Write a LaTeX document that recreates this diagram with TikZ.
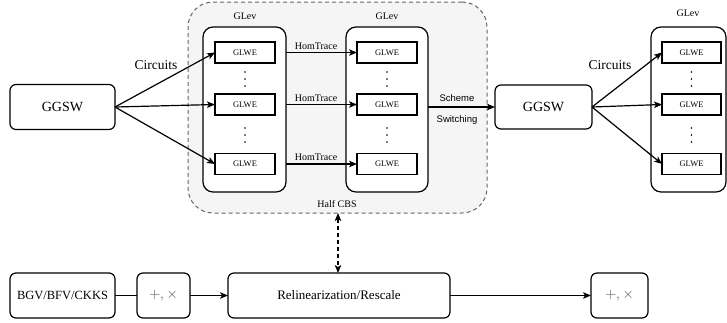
\documentclass[tikz,border=0pt]{standalone}
\usepackage{fontspec}
\setmainfont{Liberation Serif}
\newfontfamily\sansf{Liberation Sans}
\usetikzlibrary{arrows.meta}
\definecolor{regfill}{HTML}{F5F5F5}
\definecolor{regline}{HTML}{666666}
\definecolor{opgray}{HTML}{555555}
\tikzset{
  box/.style={draw=black, line width=1.2pt, rounded corners=6pt, fill=white, inner sep=0pt, outer sep=0pt},
  levbox/.style={draw=black, line width=1.2pt, rounded corners=10pt, fill=white, inner sep=0pt, outer sep=0pt},
  glwe/.style={draw=black, line width=1.2pt, fill=white, inner sep=0pt, outer sep=0pt, minimum width=60pt, minimum height=21pt, font=\fontsize{8.5}{9}\selectfont},
  conn/.style={line width=1.2pt, -{Stealth[length=8pt,width=6.5pt,inset=2pt]}},
  lbl/.style={inner sep=0pt, font=\fontsize{10}{11}\selectfont},
}
\newcommand\vdotsat[1]{%
  \fill (#1) ++(0,-7) circle (0.9pt);
  \fill (#1) circle (0.9pt);
  \fill (#1) ++(0,7) circle (0.9pt);
}
\begin{document}
\begin{tikzpicture}[x=1pt,y=-1pt]
\useasboundingbox (0,0) rectangle (727,322);
% region
\node[draw=regline, fill=regfill, dashed, dash pattern=on 4pt off 3pt, line width=1pt, rounded corners=25pt, minimum width=299pt, minimum height=211pt, inner sep=0pt] (reg) at (337.5,107.5) {};
% GGSW1
\node[box, minimum width=105pt, minimum height=45pt, font=\fontsize{14}{15}\selectfont] (g1) at (62.5,107) {GGSW};
% GLev1
\node[levbox, minimum width=83pt, minimum height=165pt] (lev1) at (244.5,109.5) {};
\node[lbl] at (245,16) {GLev};
\node[glwe] (a1) at (245,52.5) {GLWE};
\node[glwe] (a2) at (245,104.5) {GLWE};
\node[glwe] (a3) at (245,164) {GLWE};
\coordinate (ad1) at (245,79);
\coordinate (ad2) at (245,135);
\vdotsat{ad1}
\vdotsat{ad2}
% GLev2
\node[levbox, minimum width=82pt, minimum height=165pt] (lev2) at (387,109.5) {};
\node[lbl] at (387,16) {GLev};
\node[glwe] (b1) at (387,52.5) {GLWE};
\node[glwe] (b2) at (387,104.5) {GLWE};
\node[glwe] (b3) at (387,164) {GLWE};
\coordinate (bd1) at (387,79);
\coordinate (bd2) at (387,135);
\vdotsat{bd1}
\vdotsat{bd2}
% GGSW2
\node[box, minimum width=97pt, minimum height=44pt, font=\fontsize{14}{15}\selectfont] (g2) at (543.5,107) {GGSW};
% GLev3
\node[levbox, minimum width=75pt, minimum height=165pt] (lev3) at (688.5,109.5) {};
\node[lbl] at (688,13) {GLev};
\node[glwe, minimum width=59pt] (c1) at (691.5,52.5) {GLWE};
\node[glwe, minimum width=59pt] (c2) at (691.5,104.5) {GLWE};
\node[glwe, minimum width=59pt] (c3) at (691.5,164) {GLWE};
\coordinate (cd1) at (691.5,79);
\coordinate (cd2) at (691.5,135);
\vdotsat{cd1}
\vdotsat{cd2}
% labels
\node[inner sep=0pt, font=\fontsize{13.5}{14}\selectfont] at (156,65) {Circuits};
\node[inner sep=0pt, font=\fontsize{13.5}{14}\selectfont] at (610,65) {Circuits};
\node[lbl] at (316,46) {HomTrace};
\node[lbl] at (316,98) {HomTrace};
\node[lbl] at (316,157) {HomTrace};
\node[inner sep=0pt, font=\sansf\fontsize{9.5}{10}\selectfont] at (457,98) {Scheme};
\node[inner sep=0pt, font=\sansf\fontsize{9.5}{10}\selectfont] at (457,120) {Switching};
\node[lbl] at (337,204) {Half CBS};
% connectors top
\draw[conn] (g1.east) -- (a1.west);
\draw[conn] (g1.east) -- (a2.west);
\draw[conn] (g1.east) -- (a3.west);
\draw[conn] (lev1.east |- a1) -- (b1.west);
\draw[conn] (lev1.east |- a2) -- (b2.west);
\draw[conn] (lev1.east |- a3) -- (b3.west);
\draw[conn] (lev2.east |- g2) -- (g2.west);
\draw[conn] (g2.east) -- (c1.west);
\draw[conn] (g2.east) -- (c2.west);
\draw[conn] (g2.east) -- (c3.west);
% bottom row
\node[box, minimum width=105pt, minimum height=45pt, font=\fontsize{12.5}{13}\selectfont] (bgv) at (62.5,295.5) {BGV/BFV/CKKS};
\node[box, minimum width=53pt, minimum height=45pt, font=\fontsize{14}{14}\selectfont, text=opgray] (p1) at (163.5,295.5) {$+,\times$};
\node[box, minimum width=222pt, minimum height=45pt, font=\fontsize{13}{14}\selectfont] (rel) at (339,295.5) {Relinearization/Rescale};
\node[box, minimum width=57pt, minimum height=45pt, font=\fontsize{14}{14}\selectfont, text=opgray] (p2) at (619.5,295.5) {$+,\times$};
\draw[line width=1.2pt] (bgv.east) -- (p1.west);
\draw[conn] (p1.east) -- (rel.west);
\draw[conn] (rel.east) -- (p2.west);
\coordinate (hc) at (338,213);
\draw[line width=1.2pt, dashed, dash pattern=on 4pt off 3pt, {Stealth[length=8pt,width=6.5pt,inset=2pt]}-{Stealth[length=8pt,width=6.5pt,inset=2pt]}] (hc) -- (hc |- rel.north);
\end{tikzpicture}
\end{document}
